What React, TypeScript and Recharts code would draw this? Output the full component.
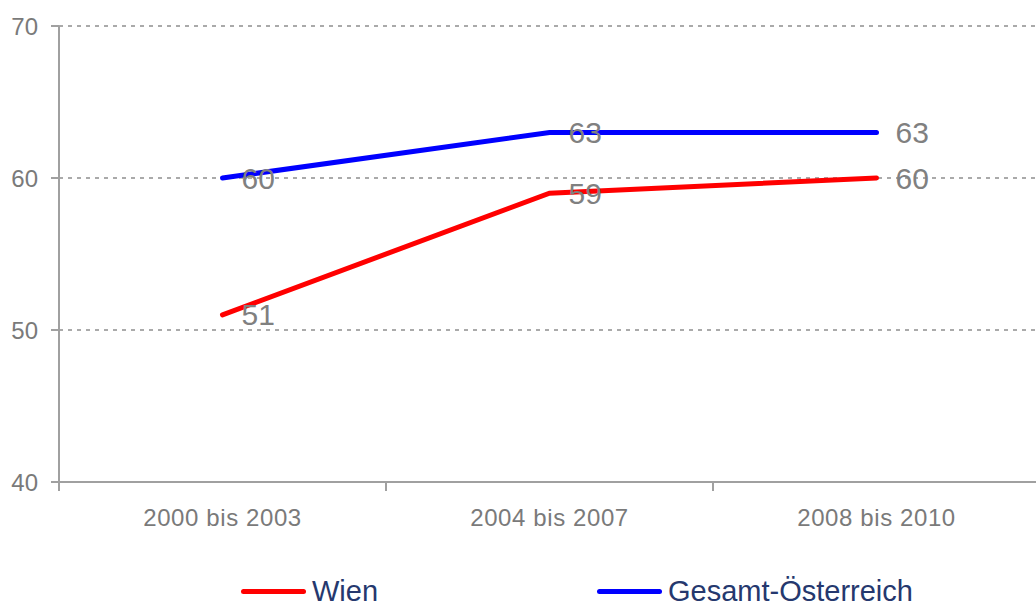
import React from 'react';
import {
  LineChart,
  Line,
  XAxis,
  YAxis,
  CartesianGrid,
  Legend,
  LabelList,
} from 'recharts';

const CATEGORIES = ['2000 bis 2003', '2004 bis 2007', '2008 bis 2010'];
const WIEN = [51, 59, 60];
const GESAMT = [60, 63, 63];
const Y_TICKS = [40, 50, 60, 70];

const CHART_W = 1040;
const CHART_H = 609;
const Y_AXIS_W = 59;
const LEGEND_H = 28;
// width of one category band, used to put tick marks on the band edges
const BAND = (CHART_W - Y_AXIS_W) / CATEGORIES.length;

const AXIS_GREY = '#a0a0a0';
const TEXT_GREY = '#7a7a7a';
const FONT = '"Liberation Sans", Arial, sans-serif';

const data = CATEGORIES.map((c, i) => ({
  name: c,
  wien: WIEN[i],
  gesamt: GESAMT[i],
}));

// Category label at band centre, tick mark on band boundaries
function XTick(props: any) {
  const { x, y, payload, index } = props;
  const axisY = y - 27;
  const isLast = index === CATEGORIES.length - 1;
  return (
    <g>
      <line x1={x - BAND / 2} x2={x - BAND / 2} y1={axisY} y2={axisY + 9} stroke={AXIS_GREY} strokeWidth={2} />
      {isLast && (
        <line x1={x + BAND / 2} x2={x + BAND / 2} y1={axisY} y2={axisY + 9} stroke={AXIS_GREY} strokeWidth={2} />
      )}
      <text
        x={x}
        y={y}
        dy="0.71em"
        textAnchor="middle"
        fill={TEXT_GREY}
        fontSize={24}
        fontFamily={FONT}
        letterSpacing={0.6}
      >
        {payload.value}
      </text>
    </g>
  );
}

// value label to the right of each point
function ValueLabel(props: any) {
  const { x, y, value } = props;
  return (
    <text
      x={x + 19}
      y={y}
      dominantBaseline="central"
      fill="#808080"
      fontSize={30}
      fontFamily={FONT}
    >
      {value}
    </text>
  );
}

function LegendContent() {
  const item = (left: number, color: string, label: string) => (
    <div
      style={{
        position: 'absolute',
        left,
        top: 0,
        height: LEGEND_H,
        display: 'flex',
        alignItems: 'center',
        whiteSpace: 'nowrap',
      }}
    >
      <div style={{ width: 65, height: 5, borderRadius: 3, background: color }} />
      <span
        style={{
          marginLeft: 6,
          fontSize: 29,
          lineHeight: '26px',
          color: '#25386e',
          fontFamily: FONT,
        }}
      >
        {label}
      </span>
    </div>
  );
  return (
    <div style={{ position: 'relative', width: CHART_W, height: LEGEND_H }}>
      {item(241, '#ff0000', 'Wien')}
      {item(597, '#0000ff', 'Gesamt-Österreich')}
    </div>
  );
}

export default function App() {
  return (
    <div
      style={{
        position: 'absolute',
        left: 0,
        top: 0,
        width: 1036,
        height: 609,
        overflow: 'hidden',
        background: '#fff',
      }}
    >
      <LineChart
        width={CHART_W}
        height={CHART_H}
        data={data}
        margin={{ top: 26, right: 0, left: 0, bottom: 0 }}
      >
        <CartesianGrid
          vertical={false}
          stroke="#8f8f8f"
          strokeWidth={1.5}
          strokeDasharray="4 5"
        />
        <XAxis
          dataKey="name"
          height={127 - LEGEND_H}
          padding={{ left: BAND / 2, right: BAND / 2 }}
          axisLine={{ stroke: AXIS_GREY, strokeWidth: 2 }}
          tickLine={false}
          tickSize={9}
          tickMargin={18}
          tick={<XTick />}
          interval={0}
        />
        <YAxis
          domain={[40, 70]}
          ticks={Y_TICKS}
          width={Y_AXIS_W}
          axisLine={{ stroke: AXIS_GREY, strokeWidth: 2 }}
          tickLine={{ stroke: AXIS_GREY, strokeWidth: 2 }}
          tickSize={8}
          tickMargin={13}
          tick={{ fill: TEXT_GREY, fontSize: 24, fontFamily: FONT }}
        />
        <Legend
          verticalAlign="bottom"
          content={<LegendContent />}
          wrapperStyle={{ top: 577, left: 0, bottom: 'auto', width: CHART_W, height: LEGEND_H }}
        />
        <Line
          type="linear"
          dataKey="wien"
          name="Wien"
          stroke="#ff0000"
          strokeWidth={5}
          strokeLinecap="round"
          dot={false}
          activeDot={false}
          isAnimationActive={false}
        >
          <LabelList dataKey="wien" content={<ValueLabel />} />
        </Line>
        <Line
          type="linear"
          dataKey="gesamt"
          name="Gesamt-Österreich"
          stroke="#0000ff"
          strokeWidth={5}
          strokeLinecap="round"
          dot={false}
          activeDot={false}
          isAnimationActive={false}
        >
          <LabelList dataKey="gesamt" content={<ValueLabel />} />
        </Line>
      </LineChart>
    </div>
  );
}
